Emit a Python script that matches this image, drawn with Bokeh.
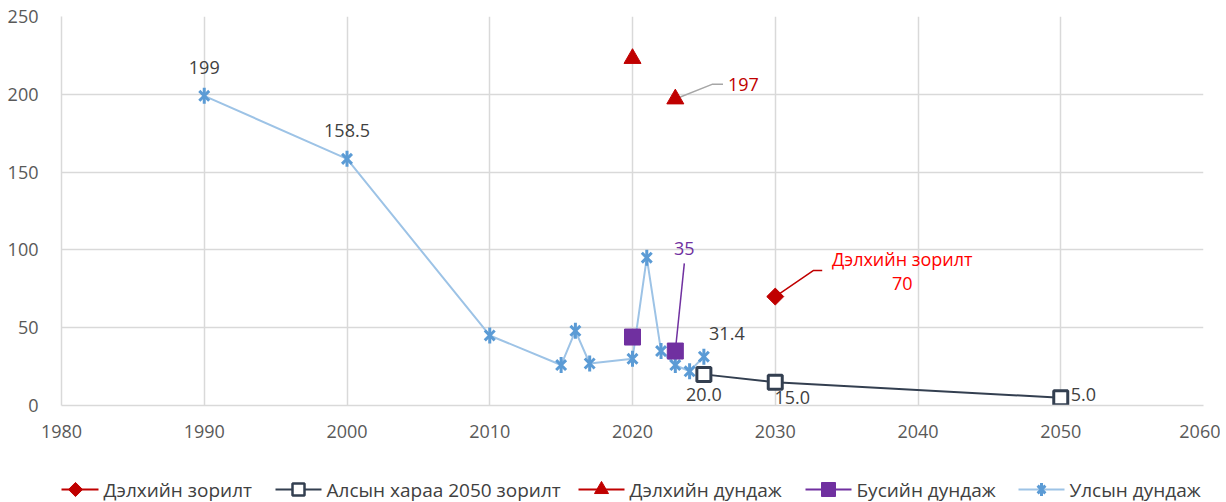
from bokeh.plotting import figure
from bokeh.models import Range1d, FixedTicker
from bokeh.layouts import column
from bokeh.core.properties import value
from bokeh.embed import file_html
from bokeh.resources import INLINE
import math

# ---------------- data ----------------
ulsyn_years = [1990, 2000, 2010, 2015, 2016, 2017, 2020, 2021, 2022, 2023, 2024, 2025]
ulsyn_vals = [199, 158.5, 45, 26, 48, 27, 30, 95, 35, 26, 22, 31.4]

alsyn_years = [2025, 2030, 2050]
alsyn_vals = [20.0, 15.0, 5.0]

world_avg_years = [2020, 2023]
world_avg_vals = [223, 197]

region_years = [2020, 2023]
region_vals = [44, 35]

world_target_years = [2030]
world_target_vals = [70]

labels_names = ["Дэлхийн зорилт", "Алсын хараа 2050 зорилт", "Дэлхийн дундаж",
                "Бусийн дундаж", "Улсын дундаж"]

x_ticks = [1980, 1990, 2000, 2010, 2020, 2030, 2040, 2050, 2060]
y_ticks = [0, 50, 100, 150, 200, 250]

# callout anchor positions (data units) for leader lines
call_197 = [(2025.57, 206.4), (2026.34, 206.4)]
call_70 = [(2032.66, 86.7), (2033.29, 86.7)]
call_35 = [(2023.63, 91.3)]

FONT = "Open Sans"
GRID = "#D9D9D9"
TXT = "#404040"
C_RED = "#C00000"
C_NAVY = "#333F50"
C_PURPLE = "#7030A0"
C_BLUE = "#5B9BD5"
C_LBLUE = "#9DC3E6"

W = 1220
BL, BR = 61, 17          # left / right borders -> frame spans [61, 1203]
p = figure(width=W, height=455, output_backend="svg", toolbar_location=None,
           x_range=Range1d(1980, 2060), y_range=Range1d(0, 250),
           min_border_left=BL, min_border_right=BR, min_border_top=16,
           min_border_bottom=50)
p.outline_line_color = None

p.xaxis.ticker = FixedTicker(ticks=x_ticks)
p.yaxis.ticker = FixedTicker(ticks=y_ticks)
for ax in (p.xaxis, p.yaxis):
    ax.axis_line_color = GRID
    ax.axis_line_width = 1.5
    ax.major_tick_line_color = None
    ax.minor_tick_line_color = None
    ax.major_tick_out = 0
    ax.major_tick_in = 0
    ax.minor_tick_out = 0
    ax.major_label_text_font = FONT
    ax.major_label_text_font_size = "18px"
    ax.major_label_text_color = "#595959"
p.xaxis.major_label_standoff = 19
p.yaxis.major_label_standoff = 23
p.xgrid.grid_line_color = GRID
p.ygrid.grid_line_color = GRID
p.xgrid.grid_line_width = 1.5
p.ygrid.grid_line_width = 1.5

# leader lines
p.line([world_avg_years[1]] + [c[0] for c in call_197],
       [world_avg_vals[1]] + [c[1] for c in call_197], line_color="#A6A6A6", line_width=1.5)
p.line([world_target_years[0]] + [c[0] for c in call_70],
       [world_target_vals[0]] + [c[1] for c in call_70], line_color=C_RED, line_width=1.5)
p.line([region_years[1]] + [c[0] for c in call_35],
       [region_vals[1]] + [c[1] for c in call_35], line_color=C_PURPLE, line_width=1.5)

# Улсын дундаж
p.line(ulsyn_years, ulsyn_vals, line_color=C_LBLUE, line_width=2)
p.scatter(ulsyn_years, ulsyn_vals, marker="x", size=14, line_color=C_BLUE, line_width=3)
p.scatter(ulsyn_years, ulsyn_vals, marker="dash", angle=math.pi / 2, size=16,
          line_color=C_BLUE, line_width=3)

# Алсын хараа 2050 зорилт
p.line(alsyn_years, alsyn_vals, line_color=C_NAVY, line_width=2)
p.scatter(alsyn_years, alsyn_vals, marker="square", size=14, fill_color="white",
          line_color=C_NAVY, line_width=3)

# Бусийн дундаж
p.scatter(region_years, region_vals, marker="square", size=16, fill_color=C_PURPLE,
          line_color=C_PURPLE)

# Дэлхийн дундаж
p.scatter(world_avg_years, world_avg_vals, marker="triangle", size=17,
          fill_color=C_RED, line_color=C_RED)

# Дэлхийн зорилт
p.scatter(world_target_years, world_target_vals, marker="square", angle=math.pi / 4,
          size=12, fill_color=C_RED, line_color=C_RED)

def txt(fig, x, y, t, color=TXT, dx=0, dy=0, align="center", size="18px"):
    fig.text(x=x, y=y, text=t, x_offset=dx, y_offset=dy, text_align=align,
             text_baseline="middle", text_font=value(FONT), text_font_size=size,
             text_color=color)

# data labels
txt(p, [ulsyn_years[0]], [ulsyn_vals[0]], [str(ulsyn_vals[0])], dy=-28)
txt(p, [ulsyn_years[1]], [ulsyn_vals[1]], [str(ulsyn_vals[1])], dy=-28)
txt(p, [ulsyn_years[-1]], [ulsyn_vals[-1]], [str(ulsyn_vals[-1])], dx=23, dy=-23)
txt(p, [alsyn_years[0]], [alsyn_vals[0]], ["%.1f" % alsyn_vals[0]], dy=20)
txt(p, [alsyn_years[1]], [alsyn_vals[1]], ["%.1f" % alsyn_vals[1]], dx=17, dy=15)
txt(p, [alsyn_years[2]], [alsyn_vals[2]], ["%.1f" % alsyn_vals[2]], dx=10, dy=-3, align="left")
txt(p, [call_197[-1][0]], [call_197[-1][1]], [str(world_avg_vals[1])], color=C_RED,
    dx=5, dy=0, align="left")
txt(p, [call_35[0][0]], [call_35[0][1]], [str(region_vals[1])], color=C_PURPLE, dy=-15)
txt(p, [world_target_years[0]], [world_target_vals[0]], [labels_names[0]], color="#FF0000",
    dx=127, dy=-38)
txt(p, [world_target_years[0]], [world_target_vals[0]], [str(world_target_vals[0])],
    color="#FF0000", dx=127, dy=-13)

# ---------------- legend strip (separate figure; its frame is aligned with the
# main frame, so x is expressed in page pixels) ----------------
LH = 47
leg = figure(width=W, height=LH, output_backend="svg", toolbar_location=None,
             x_range=Range1d(BL, W - BR), y_range=Range1d(0, LH),
             x_axis_type=None, y_axis_type=None,
             min_border_left=BL, min_border_right=BR, min_border_top=0, min_border_bottom=0)
leg.outline_line_color = None
leg.xgrid.visible = False
leg.ygrid.visible = False

leg_x = [52, 275, 578, 805, 1018]   # start of each legend glyph line (page px)
GW = 46                              # glyph width
LY = 13                              # legend row centre (from bottom)
leg_line_colors = [C_RED, C_NAVY, C_RED, C_PURPLE, C_LBLUE]
for x0, col, name in zip(leg_x, leg_line_colors, labels_names):
    leg.line([x0, x0 + GW], [LY, LY], line_color=col, line_width=2)
    txt(leg, [x0 + GW + 5], [LY], [name], align="left", size="19px")

cx = [x0 + GW / 2 for x0 in leg_x]
leg.scatter([cx[0]], [LY], marker="square", angle=math.pi / 4, size=10,
            fill_color=C_RED, line_color=C_RED)
leg.scatter([cx[1]], [LY], marker="square", size=12, fill_color="white",
            line_color=C_NAVY, line_width=2.5)
leg.scatter([cx[2]], [LY], marker="triangle", size=14, fill_color=C_RED, line_color=C_RED)
leg.scatter([cx[3]], [LY], marker="square", size=14, fill_color=C_PURPLE, line_color=C_PURPLE)
leg.scatter([cx[4]], [LY], marker="x", size=11, line_color=C_BLUE, line_width=3)
leg.scatter([cx[4]], [LY], marker="dash", angle=math.pi / 2, size=13,
            line_color=C_BLUE, line_width=3)

layout = column(p, leg, spacing=0)
open("out.html", "w").write(file_html(layout, INLINE))
